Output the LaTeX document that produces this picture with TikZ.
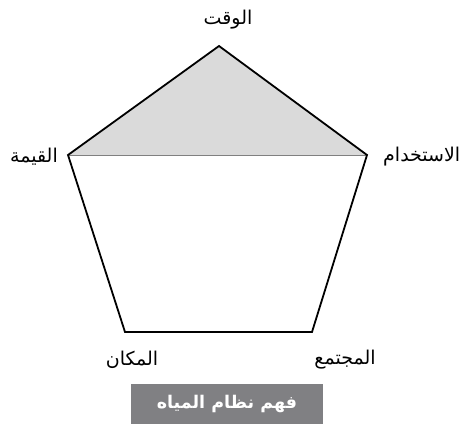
\documentclass[tikz,border=0pt]{standalone}
\usepackage{fontspec}
\usepackage{tikz}
\usetikzlibrary{positioning, calc}
\newfontfamily\arabicfont[Script=Arabic]{DejaVu Sans}
\TeXXeTstate=1
\definecolor{topfill}{HTML}{DADADA}
\definecolor{titlegray}{HTML}{808083}

\begin{document}
\begin{tikzpicture}[
    x=1pt, y=-1pt,
    every node/.style={font=\arabicfont\fontsize{19}{22}\selectfont},
    corner/.style={inner sep=0pt},
]
    \useasboundingbox (0,0) rectangle (465,425);

    % ── Pentagon corners ─────────────────────────
    \coordinate (top)   at (219,46);
    \coordinate (left)  at (68,155);
    \coordinate (right) at (367,155);
    \coordinate (botL)  at (125,332);
    \coordinate (botR)  at (312,332);

    % ── Shaded top triangle ──────────────────────
    \fill[topfill] (left) -- (top) -- (right) -- cycle;
    \draw[gray, line width=1pt] (left) -- (right);

    % ── Outline ──────────────────────────────────
    \draw[line width=1.8pt, line join=miter]
        (top) -- (right) -- (botR) -- (botL) -- (left) -- cycle;

    % ── Corner labels ────────────────────────────
    \node[corner] (time) at ($(top)+(9,-26)$) {\beginR الوقت\endR};
    \node[corner, anchor=east] (value) at ($(left)+(-10,2)$) {\beginR القيمة\endR};
    \node[corner, anchor=west] (use) at ($(right)+(16,2)$) {\beginR الاستخدام\endR};
    \node[corner] (place) at ($(botL)+(7,28)$) {\beginR المكان\endR};
    \node[corner] (society) at ($(botR)+(33,28)$) {\beginR المجتمع\endR};

    % ── Title box ────────────────────────────────
    \node[fill=titlegray, text=white, minimum width=192pt, minimum height=40pt,
          font=\arabicfont\bfseries\fontsize{17.5}{21}\selectfont]
        (title) at (227,404) {\beginR فهم نظام المياه\endR\hspace{14pt}};
\end{tikzpicture}
\end{document}
